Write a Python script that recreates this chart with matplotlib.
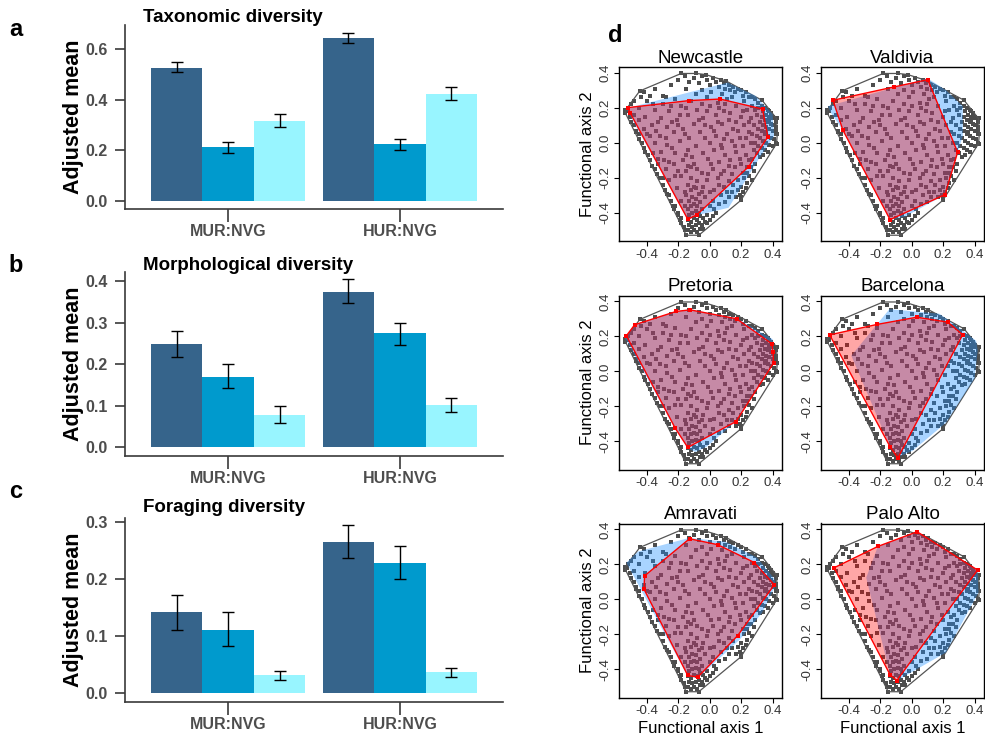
import numpy as np
import matplotlib.pyplot as plt

plt.rcParams['font.family'] = ['Liberation Sans', 'DejaVu Sans']

# ── Bar panel data (adjusted means, rows = series dark/mid/light, cols = groups) ──
GROUPS = ['MUR:NVG', 'HUR:NVG']
SERIES_COLORS = ['#36648B', '#009ACD', '#98F5FF']

TAXO_MEAN = [[0.526, 0.645], [0.211, 0.224], [0.315, 0.422]]
TAXO_LO = [[0.508, 0.625], [0.188, 0.200], [0.291, 0.399]]
TAXO_HI = [[0.547, 0.664], [0.233, 0.246], [0.343, 0.449]]

MORPH_MEAN = [[0.249, 0.374], [0.170, 0.274], [0.078, 0.101]]
MORPH_LO = [[0.218, 0.347], [0.142, 0.247], [0.058, 0.084]]
MORPH_HI = [[0.280, 0.404], [0.200, 0.300], [0.099, 0.118]]

FORAG_MEAN = [[0.142, 0.265], [0.112, 0.229], [0.032, 0.037]]
FORAG_LO = [[0.112, 0.237], [0.083, 0.201], [0.023, 0.029]]
FORAG_HI = [[0.172, 0.295], [0.142, 0.258], [0.040, 0.045]]

# ── Functional space: global species pool (axis 1, axis 2) ──
POOL_PTS = [
    # outer points
    (-0.537, 0.187), (-0.537, 0.170), (-0.446, 0.297), (-0.182, 0.397), (-0.086, 0.397),
    (-0.027, 0.391), (0.104, 0.354), (0.333, 0.244), (0.392, 0.170), (0.425, 0.140),
    (0.430, 0.050), (0.425, -0.004), (0.199, -0.327), (-0.070, -0.527), (-0.150, -0.527),
    # top band
    (-0.42, 0.29), (-0.35, 0.31), (-0.30, 0.27), (-0.25, 0.33), (-0.20, 0.36), (-0.16, 0.38),
    (-0.13, 0.35), (-0.10, 0.37), (-0.07, 0.34), (-0.05, 0.38), (-0.02, 0.36), (0.00, 0.33),
    (0.02, 0.37), (0.04, 0.35), (0.06, 0.32), (0.07, 0.36), (0.09, 0.34), (0.10, 0.31),
    (0.12, 0.33), (0.13, 0.30), (0.15, 0.32), (0.16, 0.29), (0.18, 0.31), (0.20, 0.30),
    (0.21, 0.27), (0.23, 0.29), (0.25, 0.26), (0.27, 0.26), (0.29, 0.25), (0.31, 0.23),
    (-0.38, 0.27), (-0.44, 0.26), (-0.48, 0.24), (-0.50, 0.22), (-0.52, 0.20), (-0.05, 0.30),
    (0.01, 0.29), (-0.15, 0.31), (0.08, 0.28),
    # right cluster
    (0.33, 0.21), (0.35, 0.20), (0.37, 0.19), (0.38, 0.18), (0.405, 0.15), (0.34, 0.18),
    (0.36, 0.16), (0.38, 0.15), (0.40, 0.14), (0.42, 0.12), (0.33, 0.15), (0.35, 0.13),
    (0.37, 0.12), (0.39, 0.11), (0.41, 0.10), (0.42, 0.07), (0.32, 0.12), (0.34, 0.10),
    (0.36, 0.09), (0.38, 0.08), (0.40, 0.07), (0.42, 0.05), (0.31, 0.08), (0.33, 0.07),
    (0.35, 0.05), (0.37, 0.04), (0.39, 0.03), (0.41, 0.02), (0.30, 0.04), (0.32, 0.03),
    (0.34, 0.01), (0.36, 0.00), (0.38, -0.01), (0.40, -0.02), (0.42, 0.00), (0.29, 0.00),
    (0.31, -0.02), (0.33, -0.03), (0.35, -0.04), (0.37, -0.05), (0.28, -0.04), (0.30, -0.06),
    (0.32, -0.08), (0.34, -0.07), (0.40, 0.10), (0.38, 0.13), (0.36, 0.06), (0.42, 0.09),
    (0.39, 0.16), (0.30, 0.16), (0.28, 0.10), (0.27, 0.05), (0.26, 0.14), (0.29, 0.19),
    (0.31, 0.20),
    # lower right edge
    (0.27, -0.09), (0.29, -0.12), (0.26, -0.14), (0.28, -0.16), (0.25, -0.19), (0.27, -0.21),
    (0.24, -0.23), (0.23, -0.26), (0.21, -0.28), (0.20, -0.31), (0.19, -0.30), (0.20, -0.25),
    (0.18, -0.27), (0.17, -0.31), (0.24, -0.17), (0.22, -0.20),
    # bottom cluster
    (-0.14, -0.50), (-0.12, -0.51), (-0.10, -0.50), (-0.08, -0.51), (-0.06, -0.49), (-0.13, -0.47),
    (-0.11, -0.48), (-0.09, -0.47), (-0.07, -0.46), (-0.05, -0.47), (-0.03, -0.45), (-0.14, -0.44),
    (-0.12, -0.45), (-0.10, -0.43), (-0.08, -0.44), (-0.06, -0.42), (-0.04, -0.43), (-0.02, -0.41),
    (-0.13, -0.41), (-0.11, -0.40), (-0.09, -0.39), (-0.07, -0.40), (-0.05, -0.38), (-0.14, -0.38),
    (-0.12, -0.36), (-0.10, -0.35), (-0.08, -0.36), (-0.06, -0.34), (-0.13, -0.33), (-0.11, -0.31),
    (-0.09, -0.32), (-0.15, -0.30), (-0.07, -0.29), (-0.12, -0.27), (-0.10, -0.25), (-0.14, -0.24),
    (-0.08, -0.22), (-0.04, -0.49), (-0.02, -0.46), (0.00, -0.44), (0.02, -0.42), (0.04, -0.40),
    # left diagonal strip
    (-0.51, 0.15), (-0.50, 0.12), (-0.48, 0.10), (-0.47, 0.07), (-0.45, 0.05), (-0.45, 0.02),
    (-0.43, 0.00), (-0.42, -0.03), (-0.41, -0.05), (-0.395, -0.07), (-0.38, -0.10), (-0.365, -0.13),
    (-0.35, -0.15), (-0.335, -0.18), (-0.32, -0.20), (-0.30, -0.24), (-0.285, -0.27), (-0.27, -0.29),
    (-0.25, -0.33), (-0.235, -0.36), (-0.225, -0.38), (-0.205, -0.41), (-0.19, -0.44), (-0.18, -0.46),
    (-0.165, -0.48), (-0.155, -0.50), (-0.48, 0.16), (-0.45, 0.13), (-0.42, 0.08), (-0.38, 0.04),
    (-0.36, -0.06), (-0.33, -0.12), (-0.47, 0.06), (-0.53, 0.18), (-0.30, -0.20), (-0.26, -0.30),
    (-0.22, -0.36), (-0.20, -0.40), (-0.18, -0.43),
    # interior
    (-0.40, 0.24), (-0.30, 0.22), (-0.22, 0.25), (-0.12, 0.24), (-0.02, 0.26), (0.05, 0.23),
    (0.14, 0.26), (0.22, 0.24), (-0.45, 0.20), (-0.35, 0.19), (-0.26, 0.18), (-0.18, 0.21),
    (-0.08, 0.19), (0.00, 0.21), (0.09, 0.18), (0.17, 0.21), (0.24, 0.19), (-0.41, 0.15),
    (-0.31, 0.14), (-0.21, 0.13), (-0.14, 0.16), (-0.04, 0.14), (0.04, 0.16), (0.12, 0.13),
    (0.20, 0.15), (0.25, 0.12), (-0.37, 0.10), (-0.27, 0.09), (-0.17, 0.08), (-0.10, 0.11),
    (0.01, 0.09), (0.08, 0.11), (0.15, 0.08), (0.22, 0.10), (-0.40, 0.05), (-0.32, 0.04),
    (-0.23, 0.06), (-0.13, 0.03), (-0.06, 0.06), (0.04, 0.04), (0.11, 0.05), (0.19, 0.03),
    (0.25, 0.06), (-0.35, 0.00), (-0.27, -0.01), (-0.19, 0.01), (-0.09, -0.02), (0.00, 0.00),
    (0.07, -0.01), (0.14, 0.01), (0.21, -0.02), (0.26, 0.00), (-0.31, -0.05), (-0.22, -0.06),
    (-0.14, -0.04), (-0.04, -0.06), (0.03, -0.04), (0.10, -0.07), (0.17, -0.05), (0.23, -0.07),
    (-0.33, -0.09), (-0.26, -0.11), (-0.17, -0.10), (-0.10, -0.12), (-0.01, -0.09), (0.06, -0.11),
    (0.13, -0.10), (0.20, -0.12), (0.25, -0.10), (-0.28, -0.15), (-0.20, -0.16), (-0.12, -0.14),
    (-0.05, -0.17), (0.02, -0.15), (0.09, -0.16), (0.16, -0.14), (0.21, -0.17), (-0.26, -0.21),
    (-0.18, -0.19), (-0.02, -0.21), (0.05, -0.20), (0.12, -0.22), (0.18, -0.21), (-0.21, -0.26),
    (-0.16, -0.28), (-0.04, -0.25), (0.03, -0.27), (0.09, -0.25), (0.15, -0.24), (-0.18, -0.33),
    (-0.03, -0.31), (0.02, -0.33), (0.07, -0.30), (0.12, -0.31), (0.14, -0.28), (-0.16, -0.36),
    (0.00, -0.36), (0.06, -0.35), (0.10, -0.34), (0.03, -0.38), (-0.28, 0.26), (-0.05, 0.22),
    (0.10, 0.22), (0.27, 0.21), (-0.24, 0.12), (-0.03, 0.10), (0.17, 0.12), (-0.15, -0.07),
    (0.08, -0.03), (-0.08, -0.15), (0.14, -0.18), (-0.12, -0.20), (0.00, -0.28),
    (-0.36, 0.22), (-0.25, 0.21), (-0.15, 0.20), (-0.02, 0.18), (0.06, 0.20), (0.13, 0.17),
    (0.21, 0.18), (-0.33, 0.12), (-0.20, 0.10), (-0.07, 0.13), (0.05, 0.12), (0.18, 0.07),
    (0.23, 0.03), (-0.28, 0.03), (-0.16, 0.05), (-0.03, 0.03), (0.09, 0.02), (0.16, -0.02),
    (-0.24, -0.03), (-0.11, -0.08), (0.01, -0.12), (0.12, -0.13), (0.19, -0.09), (-0.23, -0.12),
    (-0.15, -0.16), (-0.01, -0.18), (0.07, -0.18), (-0.22, -0.19), (-0.09, -0.26), (0.06, -0.24),
    (0.11, -0.28), (-0.05, -0.28), (-0.14, -0.13), (-0.34, 0.07), (-0.29, -0.10), (0.24, -0.14),
    (0.03, 0.07), (-0.19, 0.16), (0.11, 0.25), (-0.09, 0.28),
]

CITIES = ['Newcastle', 'Valdivia', 'Pretoria', 'Barcelona', 'Amravati', 'Palo Alto']

# city species pool hulls (blue)
CITY_POOL_HULLS = [
    [(-0.531, 0.198), (0.115, 0.345), (0.29, 0.27), (0.40, 0.165), (0.41, 0.04),
     (0.32, -0.08), (0.12, -0.37), (-0.066, -0.41), (-0.14, -0.44), (-0.51, 0.16)],
    [(-0.533, 0.21), (0.10, 0.37), (0.22, 0.30), (0.325, 0.21), (0.325, 0.04),
     (0.292, -0.053), (0.212, -0.295), (-0.04, -0.42), (-0.138, -0.44), (-0.438, 0.07),
     (-0.52, 0.18)],
    [(-0.538, 0.19), (-0.478, 0.267), (-0.214, 0.343), (-0.125, 0.355), (0.171, 0.305),
     (0.40, 0.185), (0.41, 0.10), (0.406, 0.048), (0.167, -0.286), (-0.02, -0.43),
     (-0.09, -0.46), (-0.14, -0.44), (-0.22, -0.33)],
    [(-0.385, 0.09), (-0.142, 0.356), (0.176, 0.33), (0.313, 0.242), (0.41, 0.175),
     (0.42, 0.12), (0.40, -0.04), (0.218, -0.293), (0.006, -0.453), (-0.078, -0.485),
     (-0.138, -0.43)],
    [(-0.531, 0.21), (-0.457, 0.274), (-0.129, 0.352), (0.10, 0.33), (0.30, 0.24),
     (0.41, 0.12), (0.42, 0.08), (0.33, -0.08), (0.19, -0.23), (-0.076, -0.45),
     (-0.14, -0.44)],
    [(-0.29, 0.124), (-0.216, 0.303), (0.034, 0.387), (0.419, 0.168), (0.425, 0.04),
     (0.218, -0.303), (-0.078, -0.455), (-0.138, -0.43)],
]

# urban species hulls (red)
URBAN_HULLS = [
    [(-0.521, 0.202), (-0.133, 0.242), (0.066, 0.251), (0.336, 0.194), (0.370, 0.036),
     (0.248, -0.135), (-0.083, -0.411), (-0.140, -0.436), (-0.506, 0.170)],
    [(-0.502, 0.244), (-0.114, 0.320), (0.102, 0.362), (0.292, -0.053), (0.212, -0.295),
     (-0.138, -0.438), (-0.438, 0.072)],
    [(-0.531, 0.204), (-0.478, 0.267), (-0.214, 0.343), (-0.125, 0.352), (0.171, 0.301),
     (0.396, 0.158), (0.404, 0.109), (0.406, 0.048), (0.167, -0.286), (-0.140, -0.434),
     (-0.220, -0.324)],
    [(-0.523, 0.209), (-0.220, 0.269), (0.032, 0.310), (0.229, 0.282), (0.324, 0.210),
     (-0.089, -0.495), (-0.138, -0.430)],
    [(-0.415, 0.135), (-0.129, 0.347), (0.051, 0.313), (0.284, 0.211), (0.411, 0.084),
     (0.178, -0.206), (-0.076, -0.444), (-0.140, -0.434), (-0.419, 0.059)],
    [(-0.495, 0.181), (-0.216, 0.303), (0.034, 0.387), (0.419, 0.168), (-0.095, -0.463),
     (-0.138, -0.430)],
]

FUNC_TICKS = [-0.4, -0.2, 0.0, 0.2, 0.4]

W, H = 985, 740


def px_rect(left, top, right, bottom):
    return [left / W, 1 - bottom / H, (right - left) / W, (bottom - top) / H]


def convex_hull(points):
    pts = sorted(set(points))

    def cross(o, a, b):
        return (a[0] - o[0]) * (b[1] - o[1]) - (a[1] - o[1]) * (b[0] - o[0])

    lower, upper = [], []
    for p in pts:
        while len(lower) >= 2 and cross(lower[-2], lower[-1], p) <= 0:
            lower.pop()
        lower.append(p)
    for p in reversed(pts):
        while len(upper) >= 2 and cross(upper[-2], upper[-1], p) <= 0:
            upper.pop()
        upper.append(p)
    return lower[:-1] + upper[:-1]


def bar_panel(rect, means, los, his, ylim, yticks, title, title_y, letter, letter_y):
    ax = fig.add_axes(px_rect(*rect))
    width = 0.3
    x = np.arange(1, len(GROUPS) + 1)
    for s in range(3):
        xs = x + (s - 1) * width
        m = np.array(means[s])
        lo = m - np.array(los[s])
        hi = np.array(his[s]) - m
        ax.bar(xs, m, width, color=SERIES_COLORS[s], edgecolor='none', zorder=2)
        ax.errorbar(xs, m, yerr=[lo, hi], fmt='none', ecolor='black',
                    elinewidth=1.0, capsize=4, capthick=1.0, zorder=3)
    ax.set_xlim(0.4, 2.6)
    ax.set_ylim(*ylim)
    ax.set_xticks(x)
    ax.set_xticklabels(GROUPS)
    ax.set_yticks(yticks)
    ax.set_yticklabels([f'{t:.1f}' for t in yticks])
    for side in ('top', 'right'):
        ax.spines[side].set_visible(False)
    for side in ('left', 'bottom'):
        ax.spines[side].set_color('#3a3a3a')
        ax.spines[side].set_linewidth(1.2)
    ax.tick_params(axis='y', length=7.5, width=1.2, color='#3a3a3a', pad=5,
                   labelsize=11.5, labelcolor='#4D4D4D')
    ax.tick_params(axis='x', length=9, width=1.2, color='#3a3a3a', pad=2,
                   labelsize=11.5, labelcolor='#4D4D4D')
    for lab in ax.get_xticklabels() + ax.get_yticklabels():
        lab.set_fontweight('bold')
    ax.set_ylabel('Adjusted mean', fontsize=15.5, fontweight='bold', labelpad=1)
    fig.text(143 / W, 1 - title_y / H, title, fontsize=13.5, fontweight='bold',
             ha='left', va='center')
    fig.text(16 / W, 1 - letter_y / H, letter, fontsize=17, fontweight='bold',
             ha='center', va='center')
    return ax


fig = plt.figure(figsize=(W / 100, H / 100), dpi=100)

bar_panel((125, 25, 503, 209), TAXO_MEAN, TAXO_LO, TAXO_HI, (-0.032, 0.695),
          [0.0, 0.2, 0.4, 0.6], 'Taxonomic diversity', 18, 'a', 30)
bar_panel((125, 272, 503, 456), MORPH_MEAN, MORPH_LO, MORPH_HI, (-0.021, 0.4216),
          [0.0, 0.1, 0.2, 0.3, 0.4], 'Morphological diversity', 265, 'b', 265)
bar_panel((125, 518, 503, 702), FORAG_MEAN, FORAG_LO, FORAG_HI, (-0.015, 0.3077),
          [0.0, 0.1, 0.2, 0.3], 'Foraging diversity', 507, 'c', 491)

# ── Panel d: functional space hulls ──
pool = np.array(POOL_PTS)
pool_hull = np.array(convex_hull(POOL_PTS))
col_left = [619, 821]
row_top = [67, 295.5, 523.5]
for i, city in enumerate(CITIES):
    r, c = divmod(i, 2)
    left, top = col_left[c], row_top[r]
    ax = fig.add_axes(px_rect(left, top, left + 163, top + 174))
    ax.plot(pool[:, 0], pool[:, 1], 's', color='#4d4d4d', markersize=2.3,
            markeredgewidth=0, zorder=1)
    hx = np.append(pool_hull[:, 0], pool_hull[0, 0])
    hy = np.append(pool_hull[:, 1], pool_hull[0, 1])
    ax.plot(hx, hy, '-', color='#555555', lw=0.9, zorder=2)

    blue = np.array(CITY_POOL_HULLS[i])
    ax.fill(blue[:, 0], blue[:, 1], color='#1E90FF', alpha=0.38, lw=0, zorder=3)
    red = np.array(URBAN_HULLS[i])
    ax.fill(red[:, 0], red[:, 1], color='#FF0000', alpha=0.35, lw=0, zorder=4)
    rx = np.append(red[:, 0], red[0, 0])
    ry = np.append(red[:, 1], red[0, 1])
    ax.plot(rx, ry, '-', color='red', lw=1.0, zorder=5)
    ax.plot(red[:, 0], red[:, 1], 's', color='red', markersize=3.2,
            markeredgewidth=0, zorder=6)

    ax.set_xlim(-0.578, 0.46)
    ax.set_ylim(-0.56, 0.434)
    ax.set_xticks(FUNC_TICKS)
    ax.set_yticks(FUNC_TICKS)
    ax.set_xticklabels([f'{t:.1f}' for t in FUNC_TICKS])
    ax.set_yticklabels([f'{t:.1f}' for t in FUNC_TICKS], rotation=90, va='center')
    ax.tick_params(length=3.5, width=0.8, labelsize=9.5, labelcolor='#333333', pad=2)
    for sp in ax.spines.values():
        sp.set_linewidth(1.0)
    ax.set_title(city, fontsize=13.5, pad=3)
    if c == 0:
        ax.set_ylabel('Functional axis 2', fontsize=12, labelpad=3)
    if r == 2:
        ax.set_xlabel('Functional axis 1', fontsize=12, labelpad=3)

fig.text(615 / W, 1 - 36 / H, 'd', fontsize=17, fontweight='bold',
         ha='center', va='center')

fig.savefig('out.png', dpi=100, facecolor='white')
